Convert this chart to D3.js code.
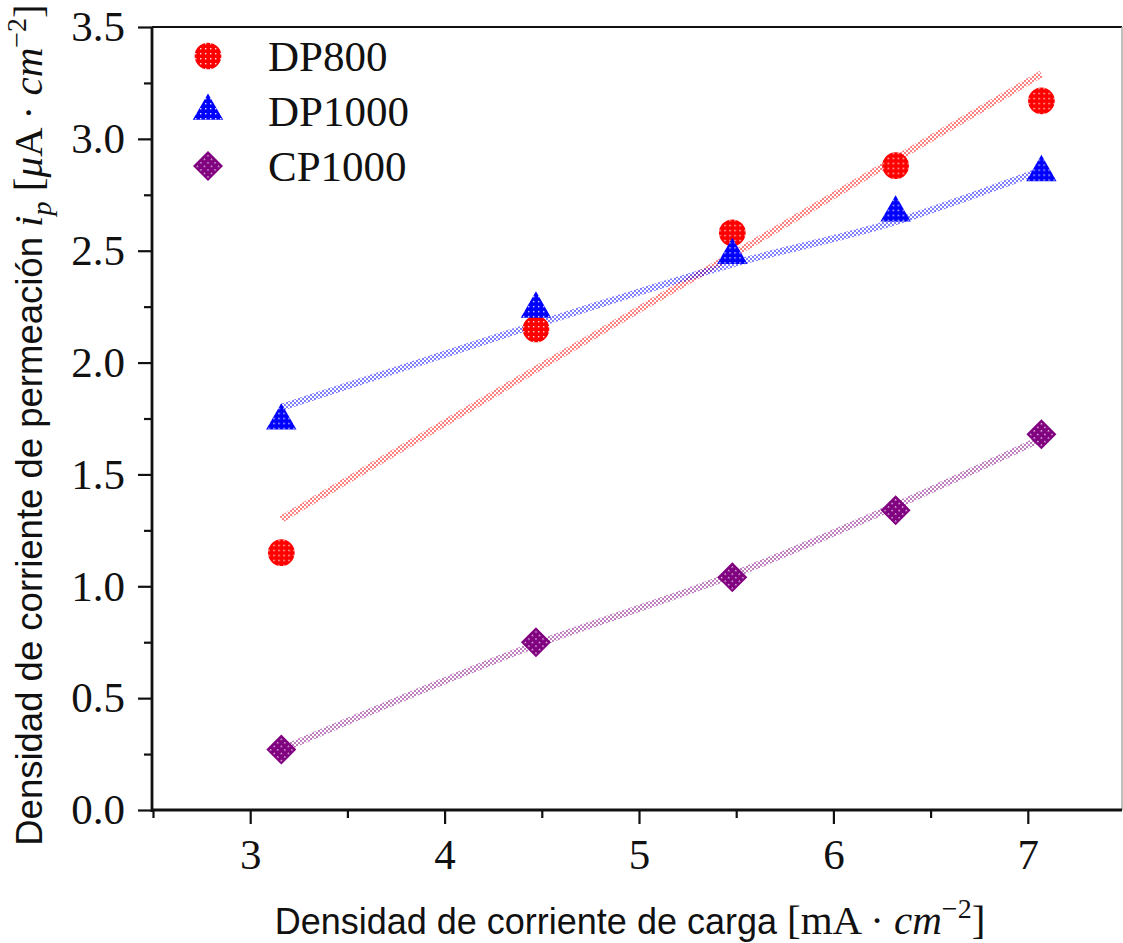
<!DOCTYPE html>
<html>
<head>
<meta charset="utf-8">
<script src="https://cdn.jsdelivr.net/npm/d3@7"></script>
<style>
  body { margin: 0; background: #fff; }
  svg { display: block; }
</style>
</head>
<body>
<div id="chart"></div>
<script>
// charge current density (x) and permeation current density per steel
const cargaX = [3.16, 4.47, 5.48, 6.32, 7.07];
const dp800 = [1.15, 2.15, 2.58, 2.88, 3.17];
const dp1000 = [1.74, 2.24, 2.48, 2.67, 2.85];
const cp1000 = [0.27, 0.75, 1.04, 1.34, 1.68];
// fitted curves at the same x values
const dp800Fit = [1.30, 1.97, 2.48, 2.91, 3.29];
const dp1000Fit = [1.80, 2.17, 2.44, 2.63, 2.86];
const cp1000Fit = [0.27, 0.74, 1.05, 1.36, 1.66];

const seriesNames = ["DP800", "DP1000", "CP1000"];
const seriesColors = ["#ff0000", "#0000ff", "#800080"];
const seriesShapes = [d3.symbolCircle, d3.symbolTriangle, d3.symbolSquare];

const xTicks = [3, 4, 5, 6, 7];
const yTicks = [0, 0.5, 1, 1.5, 2, 2.5, 3, 3.5];

const W = 1123, H = 943;
const plotL = 152, plotR = 1122, plotT = 27, plotB = 810;

const svg = d3.select("#chart").append("svg")
  .attr("width", W)
  .attr("height", H);

const x = d3.scaleLinear().domain([2.5, 7.5]).range([153, 1125]);
const y = d3.scaleLinear().domain([0, 3.5]).range([plotB, plotT]);

// patterns: coloured fill with a grid of white dots
const defs = svg.append("defs");
seriesColors.forEach(function(c, i) {
  const p = defs.append("pattern")
    .attr("id", "mk" + i)
    .attr("patternUnits", "userSpaceOnUse")
    .attr("width", 5).attr("height", 5);
  p.append("rect").attr("width", 5).attr("height", 5).attr("fill", c);
  p.append("rect").attr("x", 2).attr("y", 2).attr("width", 1.4).attr("height", 1.4)
    .attr("fill", "#fff").attr("opacity", 0.85);

  const q = defs.append("pattern")
    .attr("id", "ln" + i)
    .attr("patternUnits", "userSpaceOnUse")
    .attr("width", 4).attr("height", 4);
  q.append("rect").attr("width", 4).attr("height", 4).attr("fill", "#fff");
  q.append("rect").attr("width", 2).attr("height", 2).attr("fill", c);
  q.append("rect").attr("x", 2).attr("y", 2).attr("width", 2).attr("height", 2).attr("fill", c);
});

// frame (top / right)
svg.append("line").attr("x1", plotL).attr("x2", plotR).attr("y1", plotT).attr("y2", plotT)
  .attr("stroke", "#111").attr("stroke-width", 2);
svg.append("line").attr("x1", plotR).attr("x2", plotR).attr("y1", plotT).attr("y2", plotB)
  .attr("stroke", "#aaa").attr("stroke-width", 1.5);

const serif = "'Liberation Serif', 'Times New Roman', serif";
const sans = "'Liberation Sans', Arial, sans-serif";

// axes
const xAxis = svg.append("g").attr("transform", `translate(0,${plotB})`)
  .call(d3.axisBottom(x).tickValues(xTicks).tickSize(14).tickPadding(14).tickFormat(d3.format("d")));
svg.append("g").attr("transform", `translate(0,${plotB})`)
  .call(d3.axisBottom(x).tickValues(xTicks.map(d => d + 0.5).concat([2.5])).tickSize(8).tickFormat(""))
  .call(g => g.select(".domain").remove());

const yAxis = svg.append("g").attr("transform", `translate(${plotL},0)`)
  .call(d3.axisLeft(y).tickValues(yTicks).tickSize(14).tickPadding(13).tickFormat(d3.format(".1f")));
svg.append("g").attr("transform", `translate(${plotL},0)`)
  .call(d3.axisLeft(y).tickValues(yTicks.slice(0, -1).map(d => d + 0.25)).tickSize(8).tickFormat(""))
  .call(g => g.select(".domain").remove());

svg.selectAll(".tick line").attr("stroke", "#111").attr("stroke-width", 2.2);
xAxis.select(".domain").attr("d", `M${plotL},0H${plotR}`).attr("stroke", "#111").attr("stroke-width", 2.8);
yAxis.select(".domain").attr("d", `M0,${plotB + 2}V${plotT}`).attr("stroke", "#111").attr("stroke-width", 2.8);
svg.selectAll(".tick text")
  .attr("font-family", serif)
  .attr("font-size", 43).attr("fill", "#111");

// fit lines
const line = d3.line().x(d => x(d[0])).y(d => y(d[1])).curve(d3.curveMonotoneX);
[dp800Fit, dp1000Fit, cp1000Fit].forEach(function(vals, i) {
  svg.append("path")
    .datum(cargaX.map((v, j) => [v, vals[j]]))
    .attr("d", line)
    .attr("fill", "none")
    .attr("stroke", "url(#ln" + i + ")")
    .attr("stroke-width", 7)
    .attr("opacity", 0.5);
});

// markers
const symSizes = [560, 400, 450];
[dp800, dp1000, cp1000].forEach(function(vals, i) {
  svg.append("g").selectAll("path")
    .data(cargaX.map((v, j) => [v, vals[j]]))
    .join("path")
    .attr("transform", d => `translate(${x(d[0])},${y(d[1])})` + (i === 2 ? " rotate(45)" : ""))
    .attr("d", d3.symbol().type(seriesShapes[i]).size(symSizes[i]))
    .attr("fill", "url(#mk" + i + ")");
});

// legend
const legend = svg.append("g");
seriesNames.forEach(function(name, i) {
  const ly = 56 + i * 55;
  legend.append("path")
    .attr("transform", `translate(208,${ly})` + (i === 2 ? " rotate(45)" : ""))
    .attr("d", d3.symbol().type(seriesShapes[i]).size(symSizes[i]))
    .attr("fill", "url(#mk" + i + ")");
  legend.append("text")
    .attr("x", 268).attr("y", ly + 15)
    .attr("font-family", serif)
    .attr("font-size", 43).attr("fill", "#111")
    .text(name);
});

// axis titles
const xt = svg.append("text")
  .attr("x", 630).attr("y", 934)
  .attr("text-anchor", "middle")
  .attr("font-size", 36).attr("fill", "#111");
xt.append("tspan").attr("font-family", sans).text("Densidad de corriente de carga ");
xt.append("tspan").attr("font-family", serif).attr("font-size", 41).text("[mA · ");
xt.append("tspan").attr("font-family", serif).attr("font-size", 41).attr("font-style", "italic").text("cm");
xt.append("tspan").attr("font-family", serif).attr("font-size", 28).attr("dy", -16).text("−2");
xt.append("tspan").attr("font-family", serif).attr("font-size", 41).attr("dy", 16).text("]");

const yt = svg.append("text")
  .attr("transform", "translate(42,425) rotate(-90)")
  .attr("text-anchor", "middle")
  .attr("font-size", 36.5).attr("fill", "#111");
yt.append("tspan").attr("font-family", sans).text("Densidad de corriente de permeación ");
yt.append("tspan").attr("font-family", serif).attr("font-size", 41).attr("font-style", "italic").text("i");
yt.append("tspan").attr("font-family", serif).attr("font-size", 28).attr("font-style", "italic").attr("dy", 9).text("p");
yt.append("tspan").attr("font-family", serif).attr("font-size", 41).attr("dy", -9).text(" [");
yt.append("tspan").attr("font-family", serif).attr("font-size", 41).attr("font-style", "italic").text("μ");
yt.append("tspan").attr("font-family", serif).attr("font-size", 41).text("A · ");
yt.append("tspan").attr("font-family", serif).attr("font-size", 41).attr("font-style", "italic").text("cm");
yt.append("tspan").attr("font-family", serif).attr("font-size", 28).attr("dy", -16).text("−2");
yt.append("tspan").attr("font-family", serif).attr("font-size", 41).attr("dy", 16).text("]");
</script>
</body>
</html>
